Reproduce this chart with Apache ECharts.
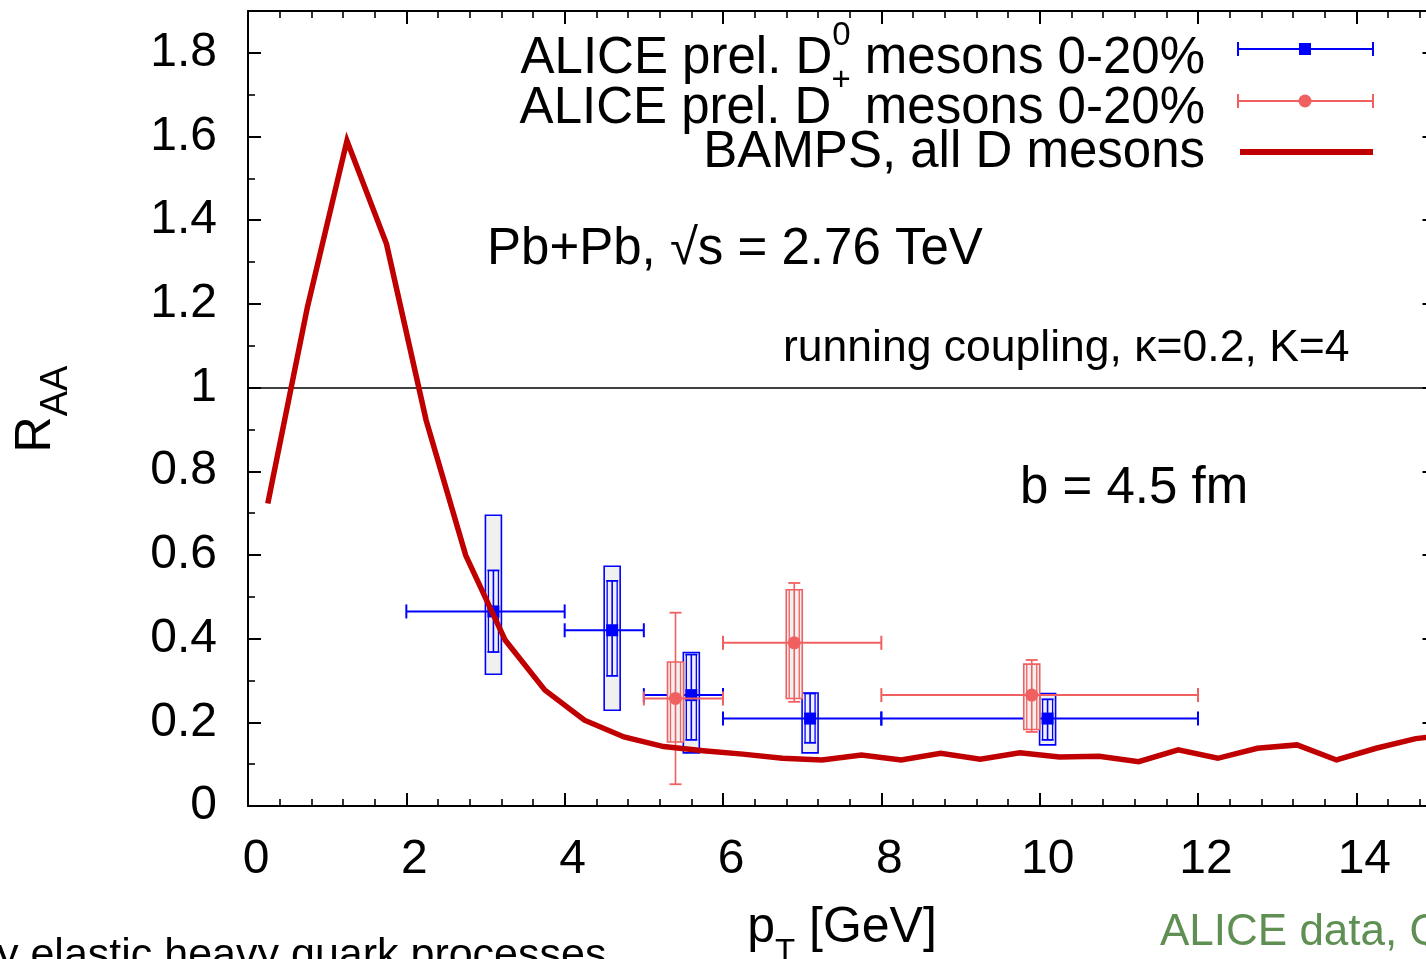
<!DOCTYPE html>
<html>
<head>
<meta charset="utf-8">
<script src="https://cdn.jsdelivr.net/npm/echarts@6/dist/echarts.min.js"></script>
<style>
html, body { margin: 0; padding: 0; overflow: hidden; width: 1426px; height: 959px; background: #fff; }
#c { width: 1440px; height: 959px; }
</style>
</head>
<body>
<div id="c"></div>
<script>
// BAMPS curve (all D mesons)
const bampsPt = [0.25, 0.75, 1.25, 1.75, 2.25, 2.75, 3.25, 3.75, 4.25, 4.75, 5.25, 5.75, 6.25, 6.75, 7.25, 7.75, 8.25, 8.75, 9.25, 9.75, 10.25, 10.75, 11.25, 11.75, 12.25, 12.75, 13.25, 13.75, 14.25, 14.75, 15.25];
const bampsRaa = [0.723, 1.192, 1.590, 1.343, 0.922, 0.599, 0.396, 0.277, 0.205, 0.165, 0.142, 0.132, 0.124, 0.114, 0.110, 0.122, 0.110, 0.126, 0.112, 0.127, 0.117, 0.119, 0.106, 0.134, 0.114, 0.138, 0.146, 0.110, 0.138, 0.161, 0.172];

// ALICE prel. D0 mesons 0-20%
const d0Pt     = [3.1, 4.6, 5.6, 7.1, 10.1];
const d0Raa    = [0.465, 0.420, 0.265, 0.209, 0.209];
const d0PtLo   = [2, 4, 5, 6, 8];
const d0PtHi   = [4, 5, 6, 8, 12];
const d0StatLo = [0.368, 0.311, 0.158, 0.151, 0.158];
const d0StatHi = [0.563, 0.538, 0.362, 0.269, 0.255];
const d0SysLo  = [0.315, 0.229, 0.127, 0.127, 0.146];
const d0SysHi  = [0.695, 0.573, 0.367, 0.270, 0.269];

// ALICE prel. D+ mesons 0-20%
const dpPt     = [5.4, 6.9, 9.9];
const dpRaa    = [0.257, 0.390, 0.265];
const dpPtLo   = [5, 6, 8];
const dpPtHi   = [6, 8, 12];
const dpStatLo = [0.052, 0.249, 0.177];
const dpStatHi = [0.462, 0.533, 0.349];
const dpSysLo  = [0.153, 0.257, 0.183];
const dpSysHi  = [0.344, 0.517, 0.339];

const xTicks = { min: 0, max: 15, interval: 2 };
const yTicks = { min: 0, max: 1.9, interval: 0.2 };

const FONT = '"Liberation Sans", Arial, Helvetica, sans-serif';
const BLUE = '#0000ff';
const PINK = '#f06060';
const DARKRED = '#c00000';

function rows(x, y, xl, xh, sl, sh, yl, yh) {
  return x.map((v, i) => [v, y[i], xl[i], xh[i], sl[i], sh[i], yl[i], yh[i]]);
}

function errSeries(name, data, color, marker) {
  return {
    name: name,
    type: 'custom',
    z: 2,
    clip: true,
    data: data,
    renderItem: function (params, api) {
      const x = api.value(0), y = api.value(1);
      const c = api.coord([x, y]);
      const cxl = api.coord([api.value(2), y]);
      const cxh = api.coord([api.value(3), y]);
      const csl = api.coord([x, api.value(4)]);
      const csh = api.coord([x, api.value(5)]);
      const cyl = api.coord([x, api.value(6)]);
      const cyh = api.coord([x, api.value(7)]);
      const bw = 8, cap = 6, iw = 5;
      const ln = (x1, y1, x2, y2, w) => ({ type: 'line', shape: { x1, y1, x2, y2 }, style: { stroke: color, lineWidth: w || 1.6 } });
      const ch = [];
      ch.push({ type: 'rect', shape: { x: c[0] - bw, y: cyh[1], width: 2 * bw, height: cyl[1] - cyh[1] }, style: { fill: '#f0f0f0', stroke: color, lineWidth: 1.6 } });
      const iTop = Math.max(csh[1], cyh[1]), iBot = Math.min(csl[1], cyl[1]);
      ch.push(ln(c[0] - iw, iTop, c[0] - iw, iBot, 1.3));
      ch.push(ln(c[0] + iw, iTop, c[0] + iw, iBot, 1.3));
      ch.push(ln(c[0], csl[1], c[0], csh[1], 1.6));
      ch.push(ln(c[0] - cap, csl[1], c[0] + cap, csl[1], 1.8));
      ch.push(ln(c[0] - cap, csh[1], c[0] + cap, csh[1], 1.8));
      ch.push(ln(cxl[0], c[1], cxh[0], c[1], 2));
      ch.push(ln(cxl[0], c[1] - 7, cxl[0], c[1] + 7, 2));
      ch.push(ln(cxh[0], c[1] - 7, cxh[0], c[1] + 7, 2));
      if (marker === 'square') {
        ch.push({ type: 'rect', shape: { x: c[0] - 6, y: c[1] - 6, width: 12, height: 12 }, style: { fill: color } });
      } else {
        ch.push({ type: 'circle', shape: { cx: c[0], cy: c[1], r: 6.5 }, style: { fill: color } });
      }
      return { type: 'group', children: ch };
    }
  };
}

const axisCommon = {
  type: 'value',
  splitLine: { show: false },
  axisLine: { show: true, onZero: false, lineStyle: { color: '#000', width: 2 } },
  axisTick: { show: true, inside: true, length: 13, lineStyle: { color: '#000', width: 2 } },
  minorTick: { show: true, length: 7, lineStyle: { color: '#000', width: 1.6 } },
  minorSplitLine: { show: false }
};

const chart = echarts.init(document.getElementById('c'), null, { renderer: 'canvas' });

const legendRich = (lineH) => ({
  m: { fontSize: 51, lineHeight: lineH, fontFamily: FONT, verticalAlign: 'bottom' },
  s: { fontSize: 33, fontFamily: FONT, verticalAlign: 'top' }
});

const option = {
  backgroundColor: '#fff',
  animation: false,
  grid: { left: 248, top: 11, width: 1187.5, height: 795, containLabel: false },
  xAxis: [
    Object.assign({}, axisCommon, {
      position: 'bottom', min: xTicks.min, max: xTicks.max, interval: xTicks.interval,
      minorTick: Object.assign({}, axisCommon.minorTick, { splitNumber: 5 }),
      axisLabel: { show: true, fontSize: 48, color: '#000', fontFamily: FONT, margin: 30, showMaxLabel: false, padding: [0, 0, 0, 16] }
    }),
    Object.assign({}, axisCommon, {
      position: 'top', min: xTicks.min, max: xTicks.max, interval: xTicks.interval,
      minorTick: Object.assign({}, axisCommon.minorTick, { splitNumber: 5 }),
      axisLabel: { show: false }
    })
  ],
  yAxis: [
    Object.assign({}, axisCommon, {
      position: 'left', min: yTicks.min, max: yTicks.max, interval: yTicks.interval,
      minorTick: Object.assign({}, axisCommon.minorTick, { splitNumber: 2 }),
      axisLabel: { show: true, fontSize: 48, color: '#000', fontFamily: FONT, margin: 31, showMaxLabel: false }
    }),
    Object.assign({}, axisCommon, {
      position: 'right', min: yTicks.min, max: yTicks.max, interval: yTicks.interval,
      minorTick: Object.assign({}, axisCommon.minorTick, { splitNumber: 2 }),
      axisLabel: { show: false }
    })
  ],
  series: [
    errSeries('ALICE prel. D0 mesons 0-20%', rows(d0Pt, d0Raa, d0PtLo, d0PtHi, d0StatLo, d0StatHi, d0SysLo, d0SysHi), BLUE, 'square'),
    errSeries('ALICE prel. D+ mesons 0-20%', rows(dpPt, dpRaa, dpPtLo, dpPtHi, dpStatLo, dpStatHi, dpSysLo, dpSysHi), PINK, 'circle'),
    {
      name: 'BAMPS, all D mesons',
      type: 'line',
      z: 3,
      clip: true,
      symbol: 'none',
      data: bampsPt.map((v, i) => [v, bampsRaa[i]]),
      lineStyle: { color: DARKRED, width: 5.5, join: 'miter' },
      markLine: {
        silent: true, symbol: 'none', z: 1,
        label: { show: false },
        lineStyle: { color: '#000', width: 1.6, type: 'solid' },
        data: [{ yAxis: 1 }]
      }
    }
  ],
  graphic: [
    // legend texts
    { type: 'text', x: 1205, y: 51.5, style: { text: '{m|ALICE prel. D}{s|0}{m| mesons 0-20%}', align: 'right', verticalAlign: 'middle', fill: '#000', rich: legendRich(65) } },
    { type: 'text', x: 1205, y: 99, style: { text: '{m|ALICE prel. D}{s|+}{m| mesons 0-20%}', align: 'right', verticalAlign: 'middle', fill: '#000', rich: legendRich(70) } },
    { type: 'text', x: 1205, y: 153, style: { text: 'BAMPS, all D mesons', align: 'right', verticalAlign: 'middle', fill: '#000', font: '51px ' + FONT } },
    // legend samples
    { type: 'line', shape: { x1: 1238, y1: 49, x2: 1373, y2: 49 }, style: { stroke: BLUE, lineWidth: 2 } },
    { type: 'line', shape: { x1: 1238, y1: 42, x2: 1238, y2: 56 }, style: { stroke: BLUE, lineWidth: 2 } },
    { type: 'line', shape: { x1: 1373, y1: 42, x2: 1373, y2: 56 }, style: { stroke: BLUE, lineWidth: 2 } },
    { type: 'rect', shape: { x: 1299, y: 43, width: 12, height: 12 }, style: { fill: BLUE } },
    { type: 'line', shape: { x1: 1238, y1: 101, x2: 1373, y2: 101 }, style: { stroke: PINK, lineWidth: 2 } },
    { type: 'line', shape: { x1: 1238, y1: 94, x2: 1238, y2: 108 }, style: { stroke: PINK, lineWidth: 2 } },
    { type: 'line', shape: { x1: 1373, y1: 94, x2: 1373, y2: 108 }, style: { stroke: PINK, lineWidth: 2 } },
    { type: 'circle', shape: { cx: 1305, cy: 101, r: 6.5 }, style: { fill: PINK } },
    { type: 'line', shape: { x1: 1240, y1: 152, x2: 1373, y2: 152 }, style: { stroke: DARKRED, lineWidth: 6 } },
    // annotations
    { type: 'text', x: 487, y: 250, style: { text: 'Pb+Pb, \u221As = 2.76 TeV', align: 'left', verticalAlign: 'middle', fill: '#000', font: '51px ' + FONT } },
    { type: 'text', x: 783, y: 349, style: { text: 'running coupling, \u03BA=0.2, K=4', align: 'left', verticalAlign: 'middle', fill: '#000', font: '44.5px ' + FONT } },
    { type: 'text', x: 1020, y: 489, style: { text: 'b = 4.5 fm', align: 'left', verticalAlign: 'middle', fill: '#000', font: '51px ' + FONT } },
    // axis titles
    { type: 'text', x: 43.5, y: 409, rotation: Math.PI / 2, style: { text: '{m|R}{s|AA}', align: 'center', verticalAlign: 'middle', fill: '#000', rich: { m: { fontSize: 50, lineHeight: 65, fontFamily: FONT, verticalAlign: 'top' }, s: { fontSize: 38, fontFamily: FONT, verticalAlign: 'bottom' } } } },
    { type: 'text', x: 842, y: 936, style: { text: '{m|p}{s|T}{m| [GeV]}', align: 'center', verticalAlign: 'middle', fill: '#000', rich: { m: { fontSize: 50, lineHeight: 66, fontFamily: FONT, verticalAlign: 'top' }, s: { fontSize: 33, fontFamily: FONT, verticalAlign: 'bottom' } } } },
    // slide texts cut at the picture edge
    { type: 'text', x: -3, y: 956, style: { text: 'y elastic heavy quark processes', align: 'left', verticalAlign: 'middle', fill: '#000', font: '43px ' + FONT } },
    { type: 'text', x: 1160, y: 933, style: { text: 'ALICE data, Q', align: 'left', verticalAlign: 'middle', fill: '#5f8f52', font: '44px ' + FONT } }
  ]
};

chart.setOption(option);
</script>
</body>
</html>
